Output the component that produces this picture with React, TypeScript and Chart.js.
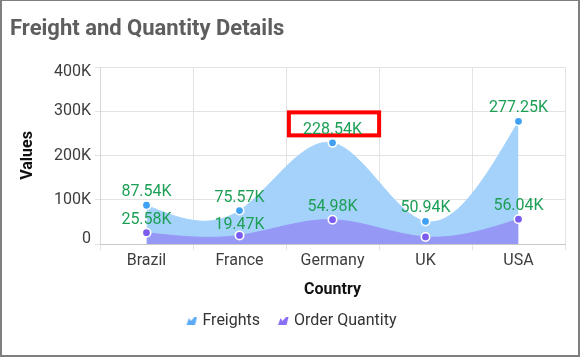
import React, { useEffect, useRef } from 'react';
import { Chart, registerables } from 'chart.js';

Chart.register(...registerables);

// ---------- data ----------
const countries = ['Brazil', 'France', 'Germany', 'UK', 'USA'];
const freights = [87540, 75570, 228540, 50940, 277250];
const orderQuantity = [25580, 19470, 54980, 15900, 56040];
const yTickValues = [0, 100000, 200000, 300000, 400000];
const seriesNames = ['Freights', 'Order Quantity'];
const highlightSeries = 0;
const highlightIndex = 2; // Germany freight label is boxed

// ---------- styles ----------
const FONT = 'Roboto';
const freightFill = '#a5d2fb';
const freightMarker = '#40a0f4';
const qtyFill = '#9698f6';
const qtyMarker = '#7b5cf0';
const labelGreen = '#1c9f55';

const fmtTick = (v: number) => (v === 0 ? '0' : v / 1000 + 'K');
const fmtLabel = (v: number) => (v / 1000).toFixed(2) + 'K';

function makeIcon(color: string): HTMLCanvasElement {
  const c = document.createElement('canvas');
  c.width = 22;
  c.height = 10;
  const g = c.getContext('2d')!;
  g.fillStyle = color;
  g.beginPath();
  g.moveTo(11, 9);
  g.lineTo(13.5, 2);
  g.lineTo(15.5, 5);
  g.lineTo(19, 1);
  g.lineTo(21.5, 1);
  g.lineTo(19.5, 9);
  g.closePath();
  g.fill();
  return c;
}

// natural cubic spline control points (pixel space, via the chart's scales)
const naturalSpline = {
  id: 'naturalSpline',
  afterDatasetsUpdate(chart: any) {
    chart.data.datasets.forEach((_ds: any, di: number) => {
      const meta = chart.getDatasetMeta(di);
      const pts = meta.data;
      const n = pts.length;
      if (n < 3) return;
      if (meta.dataset && meta.dataset.updateControlPoints) meta.dataset.updateControlPoints(chart.chartArea, 'x');
      const xs = pts.map((p: any) => p.x);
      const ys = pts.map((p: any) => p.y);
      const h: number[] = [];
      for (let i = 0; i < n - 1; i++) h[i] = xs[i + 1] - xs[i];
      const M = new Array(n).fill(0);
      const m = n - 2;
      const a: number[] = [], b: number[] = [], c: number[] = [], d: number[] = [];
      for (let k = 0; k < m; k++) {
        const i = k + 1;
        a[k] = h[i - 1];
        b[k] = 2 * (h[i - 1] + h[i]);
        c[k] = h[i];
        d[k] = 6 * ((ys[i + 1] - ys[i]) / h[i] - (ys[i] - ys[i - 1]) / h[i - 1]);
      }
      for (let k = 1; k < m; k++) {
        const w = a[k] / b[k - 1];
        b[k] -= w * c[k - 1];
        d[k] -= w * d[k - 1];
      }
      const sol: number[] = [];
      sol[m - 1] = d[m - 1] / b[m - 1];
      for (let k = m - 2; k >= 0; k--) sol[k] = (d[k] - c[k] * sol[k + 1]) / b[k];
      for (let k = 0; k < m; k++) M[k + 1] = sol[k];
      const slope: number[] = [];
      for (let i = 0; i < n - 1; i++) {
        slope[i] = (ys[i + 1] - ys[i]) / h[i] - (h[i] * (2 * M[i] + M[i + 1])) / 6;
      }
      slope[n - 1] = (ys[n - 1] - ys[n - 2]) / h[n - 2] + (h[n - 2] * (M[n - 2] + 2 * M[n - 1])) / 6;
      for (let i = 0; i < n; i++) {
        const p = pts[i];
        if (i > 0) {
          p.cp1x = xs[i] - h[i - 1] / 3;
          p.cp1y = ys[i] - (slope[i] * h[i - 1]) / 3;
        } else {
          p.cp1x = xs[i];
          p.cp1y = ys[i];
        }
        if (i < n - 1) {
          p.cp2x = xs[i] + h[i] / 3;
          p.cp2y = ys[i] + (slope[i] * h[i]) / 3;
        } else {
          p.cp2x = xs[i];
          p.cp2y = ys[i];
        }
      }
    });
  },
};

const LABEL_GAP = 15;
const MARK_R = 5;
const HALF_H = 7;
const TEXT_SHIFT = 2; // 'middle' baseline sits a little high for Roboto

const highlightBox = {
  id: 'highlightBox',
  afterDatasetsDraw(chart: any) {
    const p = chart.getDatasetMeta(highlightSeries).data[highlightIndex];
    if (!p) return;
    const ctx = chart.ctx;
    ctx.save();
    ctx.font = `16px ${FONT}`;
    const text = fmtLabel(chart.data.datasets[highlightSeries].data[highlightIndex]);
    const w = ctx.measureText(text).width;
    ctx.strokeStyle = '#ff0000';
    ctx.lineWidth = 4;
    ctx.strokeRect(p.x - w / 2 - 14, p.y - 30.5, w + 31, 23);
    ctx.restore();
  },
};

const dataLabels = {
  id: 'dataLabels',
  afterDatasetsDraw(chart: any) {
    const ctx = chart.ctx;
    ctx.save();
    ctx.font = `16px ${FONT}`;
    ctx.fillStyle = labelGreen;
    ctx.textAlign = 'center';
    ctx.textBaseline = 'middle';
    const markers: { di: number; x: number; y: number }[] = [];
    chart.data.datasets.forEach((_d: any, di: number) =>
      chart.getDatasetMeta(di).data.forEach((p: any) => markers.push({ di, x: p.x, y: p.y }))
    );
    chart.data.datasets.forEach((ds: any, di: number) => {
      chart.getDatasetMeta(di).data.forEach((p: any, i: number) => {
        const text = fmtLabel(ds.data[i]);
        const w = ctx.measureText(text).width;
        const hits = (cy: number) =>
          markers.some(
            (mk) =>
              mk.di !== di &&
              Math.abs(mk.x - p.x) < w / 2 + MARK_R &&
              cy + HALF_H > mk.y - MARK_R &&
              cy - HALF_H < mk.y + MARK_R
          );
        let cy = p.y - LABEL_GAP;
        if (hits(cy)) {
          let placed = false;
          for (let c = cy; c + HALF_H <= p.y - MARK_R + 0.01; c += 1) {
            if (!hits(c)) {
              cy = c;
              placed = true;
              break;
            }
          }
          if (!placed) return;
        }
        ctx.fillText(text, p.x, cy + TEXT_SHIFT);
      });
    });
    ctx.restore();
  },
};

export default function App() {
  const ref = useRef<HTMLCanvasElement>(null);

  useEffect(() => {
    if (!ref.current) return;
    Chart.defaults.font.family = FONT;
    const icons = [makeIcon('#5aaaf6'), makeIcon('#8b6ff4')];
    const chart = new Chart(ref.current, {
      type: 'line',
      data: {
        labels: countries,
        datasets: [
          {
            label: seriesNames[0],
            data: freights,
            order: 1,
            fill: 'origin',
            backgroundColor: freightFill,
            borderColor: freightFill,
            borderWidth: 1,
            tension: 0.4,
            pointRadius: 4.2,
            pointBorderWidth: 1.6,
            pointBackgroundColor: freightMarker,
            pointBorderColor: '#ffffff',
            pointStyle: 'circle',
          } as any,
          {
            label: seriesNames[1],
            data: orderQuantity,
            order: 0,
            fill: 'origin',
            backgroundColor: qtyFill,
            borderColor: qtyFill,
            borderWidth: 1,
            tension: 0.4,
            pointRadius: 4.2,
            pointBorderWidth: 1.6,
            pointBackgroundColor: qtyMarker,
            pointBorderColor: '#ffffff',
            pointStyle: 'circle',
          } as any,
        ],
      },
      options: {
        responsive: false,
        animation: false,
        devicePixelRatio: 1,
        layout: { padding: { left: 10, right: 15, top: 0, bottom: 18 } },
        plugins: {
          title: {
            display: true,
            text: 'Freight and Quantity Details',
            align: 'start',
            color: '#5e5e5e',
            font: { family: FONT, size: 22, weight: 'bold' },
            padding: { top: 16, bottom: 24.6 },
          },
          legend: {
            position: 'bottom',
            labels: {
              usePointStyle: true,
              boxWidth: 16,
              boxHeight: 10,
              padding: 10,
              color: '#333333',
              font: { family: FONT, size: 16 },
              sort: (a: any, b: any) => a.datasetIndex - b.datasetIndex,
              generateLabels: (ch: any) =>
                ch.data.datasets.map((ds: any, i: number) => ({
                  text: ds.label,
                  datasetIndex: i,
                  pointStyle: icons[i],
                  fillStyle: 'transparent',
                  strokeStyle: 'transparent',
                  lineWidth: 0,
                  hidden: false,
                  fontColor: '#333333',
                })),
            },
          },
          tooltip: { enabled: false },
        },
        scales: {
          x: {
            type: 'category',
            offset: true,
            grid: { offset: true, color: '#e3e3e3', tickLength: 6, drawTicks: true },
            border: { color: '#c9c9c9' },
            ticks: { color: '#3d3d3d', font: { family: FONT, size: 16 }, padding: 1 },
            title: {
              display: true,
              text: 'Country',
              color: '#111111',
              font: { family: FONT, size: 16, weight: 'bold' },
              padding: { top: 6, bottom: 3.4 },
            },
            afterFit: (s: any) => {
              s.height = 59;
            },
          },
          y: {
            min: 0,
            max: 400000,
            afterBuildTicks: (s: any) => {
              s.ticks = yTickValues.map((v) => ({ value: v }));
            },
            grid: { color: '#e3e3e3', tickLength: 5 },
            border: { color: '#d6d6d6' },
            ticks: {
              color: '#3d3d3d',
              font: { family: FONT, size: 16, lineHeight: 0.6 },
              padding: 4,
              callback: (v: any) => {
                const n = Number(v);
                const t = fmtTick(n);
                if (n === yTickValues[yTickValues.length - 1]) return ['', t];
                if (n === yTickValues[0]) return [t, ''];
                return t;
              },
            },
            title: {
              display: true,
              text: 'Values',
              color: '#111111',
              font: { family: FONT, size: 16, weight: 'bold' },
              padding: { top: 8, bottom: 4 },
            },
            afterFit: (s: any) => {
              s.width = 90;
            },
          },
        },
      } as any,
      plugins: [naturalSpline, highlightBox, dataLabels],
    });
    return () => chart.destroy();
  }, []);

  return (
    <div style={{ position: 'absolute', left: 0, top: 0, width: 580, height: 357, background: '#fff' }}>
      <canvas ref={ref} width={580} height={357} style={{ display: 'block', width: 580, height: 357 }} />
      <div
        style={{
          position: 'absolute',
          left: 0,
          top: 0,
          width: 580,
          height: 357,
          boxSizing: 'border-box',
          borderTop: '1px solid #7f7f7f',
          borderLeft: '2px solid #7f7f7f',
          borderRight: '2px solid #7f7f7f',
          borderBottom: '2px solid #7f7f7f',
          pointerEvents: 'none',
        }}
      />
    </div>
  );
}
